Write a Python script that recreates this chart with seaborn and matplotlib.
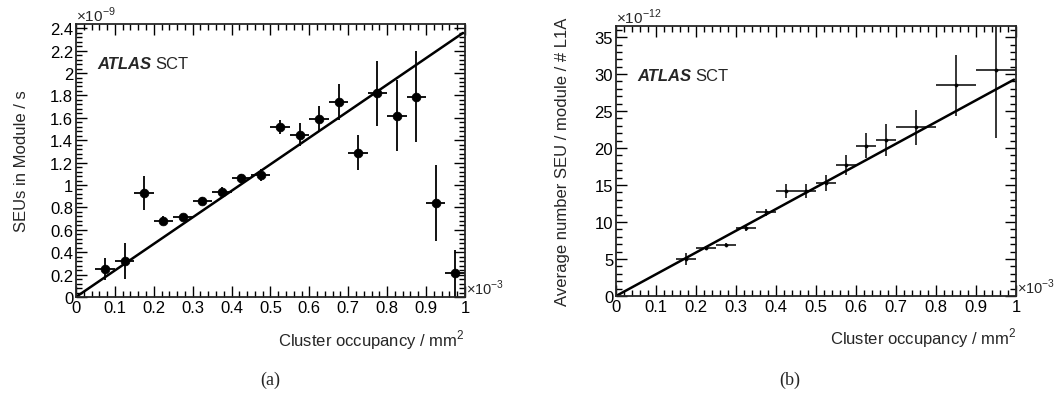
"""
SEU rate vs cluster occupancy, ATLAS SCT style two-panel figure.
"""
import matplotlib
matplotlib.use("Agg")
import matplotlib.pyplot as plt
import pandas as pd
import seaborn as sns
from matplotlib.ticker import MultipleLocator, FuncFormatter

# panel (a): SEUs in module / s  (x in 1e-3 mm^-2, y in 1e-9)
occ_a = [0.075, 0.125, 0.175, 0.225, 0.275, 0.325, 0.375, 0.425, 0.475, 0.525,
         0.575, 0.625, 0.675, 0.725, 0.775, 0.825, 0.875, 0.925, 0.975]
seu_a = [0.25, 0.32, 0.93, 0.68, 0.71, 0.86, 0.94, 1.06, 1.09, 1.52,
         1.45, 1.59, 1.74, 1.29, 1.82, 1.62, 1.79, 0.84, 0.21]
err_a = [0.10, 0.16, 0.15, 0.04, 0.02, 0.03, 0.04, 0.04, 0.05, 0.06,
         0.10, 0.12, 0.16, 0.16, 0.29, 0.32, 0.41, 0.34, 0.21]
xerr_a = [0.025] * len(occ_a)
slope_a = 2.37

# panel (b): average number SEU / module / # L1A  (y in 1e-12)
occ_b = [0.175, 0.225, 0.275, 0.325, 0.375, 0.425, 0.475, 0.525, 0.575,
         0.625, 0.675, 0.75, 0.85, 0.95]
seu_b = [5.0, 6.5, 6.9, 9.2, 11.3, 14.2, 14.2, 15.3, 17.7,
         20.3, 21.1, 22.8, 28.5, 30.5]
err_b = [0.75, 0.3, 0.2, 0.4, 0.5, 1.0, 1.0, 1.1, 1.3,
         1.7, 2.2, 2.4, 4.1, 9.2]
xerr_b = [0.025] * 11 + [0.05, 0.05, 0.05]
slope_b = 29.4

fit_x = [0.0, 0.995]

sns.set_style("ticks")
plt.rcParams["font.family"] = ["Liberation Sans", "DejaVu Sans"]
plt.rcParams["mathtext.fontset"] = "custom"
plt.rcParams["mathtext.rm"] = "Liberation Sans"

FS = 12

fig = plt.figure(figsize=(10.55, 4.02), dpi=100)
ax_a = fig.add_axes([0.0720, 0.2587, 0.3687, 0.679])
ax_b = fig.add_axes([0.5839, 0.2612, 0.3791, 0.6716])

fmt = FuncFormatter(lambda v, p: "%g" % round(v, 6))


def style_axes(ax, xmaj, xmin, ymaj, ymin):
    ax.xaxis.set_major_locator(MultipleLocator(xmaj))
    ax.xaxis.set_minor_locator(MultipleLocator(xmin))
    ax.yaxis.set_major_locator(MultipleLocator(ymaj))
    ax.yaxis.set_minor_locator(MultipleLocator(ymin))
    ax.xaxis.set_major_formatter(fmt)
    ax.yaxis.set_major_formatter(fmt)
    ax.tick_params(which="both", direction="in", top=True, right=True,
                   width=1.0, colors="black", labelsize=FS)
    ax.tick_params(which="major", length=8, pad=2)
    ax.tick_params(which="minor", length=4)
    for s in ax.spines.values():
        s.set_linewidth(1.3)
        s.set_visible(True)


# --- panel (a)
df_a = pd.DataFrame({"occ": occ_a, "seu": seu_a})
ax_a.errorbar(occ_a, seu_a, yerr=err_a, xerr=xerr_a, fmt="none",
              ecolor="black", elinewidth=1.3, capsize=0)
sns.scatterplot(data=df_a, x="occ", y="seu", ax=ax_a, color="black",
                s=40, edgecolor="black", zorder=3)
fit_a = pd.DataFrame({"x": fit_x, "y": [slope_a * v for v in fit_x]})
sns.lineplot(data=fit_a, x="x", y="y", ax=ax_a, color="black", lw=1.8)
ax_a.set_xlim(0, 1)
ax_a.set_ylim(0, 2.4375)
style_axes(ax_a, 0.1, 0.02, 0.2, 0.04)
ax_a.set_xlabel("")
ax_a.set_ylabel("SEUs in Module / s", fontsize=FS, labelpad=15)

# --- panel (b)
df_b = pd.DataFrame({"occ": occ_b, "seu": seu_b})
ax_b.errorbar(occ_b, seu_b, yerr=err_b, xerr=xerr_b, fmt="none",
              ecolor="black", elinewidth=1.1, capsize=0)
sns.scatterplot(data=df_b, x="occ", y="seu", ax=ax_b, color="black",
                s=6, edgecolor="black", zorder=3)
fit_b = pd.DataFrame({"x": fit_x, "y": [slope_b * v for v in fit_x]})
sns.lineplot(data=fit_b, x="x", y="y", ax=ax_b, color="black", lw=1.8)
ax_b.set_xlim(0, 1)
ax_b.set_ylim(0, 36.5)
style_axes(ax_b, 0.1, 0.02, 5, 1)
ax_b.set_xlabel("")
ax_b.set_ylabel("Average number SEU / module / # L1A", fontsize=FS, labelpad=18)

for ax, ypow in [(ax_a, "-9"), (ax_b, "-12")]:
    ax.text(0.0, 1.0, r"$\times$10$^{%s}$" % ypow, transform=ax.transAxes,
            ha="left", va="bottom", fontsize=11)
    ax.text(1.002, 0.0, r"$\times$10$^{-3}$", transform=ax.transAxes,
            ha="left", va="bottom", fontsize=10.5)
    ax.text(1.0, -0.11, r"Cluster occupancy / mm$^{2}$", transform=ax.transAxes,
            ha="right", va="top", fontsize=FS)

ax_a.text(0.055, 0.855, "ATLAS", transform=ax_a.transAxes, fontsize=FS,
          fontweight="bold", fontstyle="italic", va="center")
ax_a.text(0.205, 0.855, "SCT", transform=ax_a.transAxes, fontsize=FS, va="center")
ax_b.text(0.053, 0.815, "ATLAS", transform=ax_b.transAxes, fontsize=FS,
          fontweight="bold", fontstyle="italic", va="center")
ax_b.text(0.198, 0.815, "SCT", transform=ax_b.transAxes, fontsize=FS, va="center")

fig.text(270 / 1055, 1 - 380 / 402, "(a)", ha="center", va="center",
         fontsize=13, family="Liberation Serif")
fig.text(790 / 1055, 1 - 380 / 402, "(b)", ha="center", va="center",
         fontsize=13, family="Liberation Serif")

fig.savefig("out.png", dpi=100)
